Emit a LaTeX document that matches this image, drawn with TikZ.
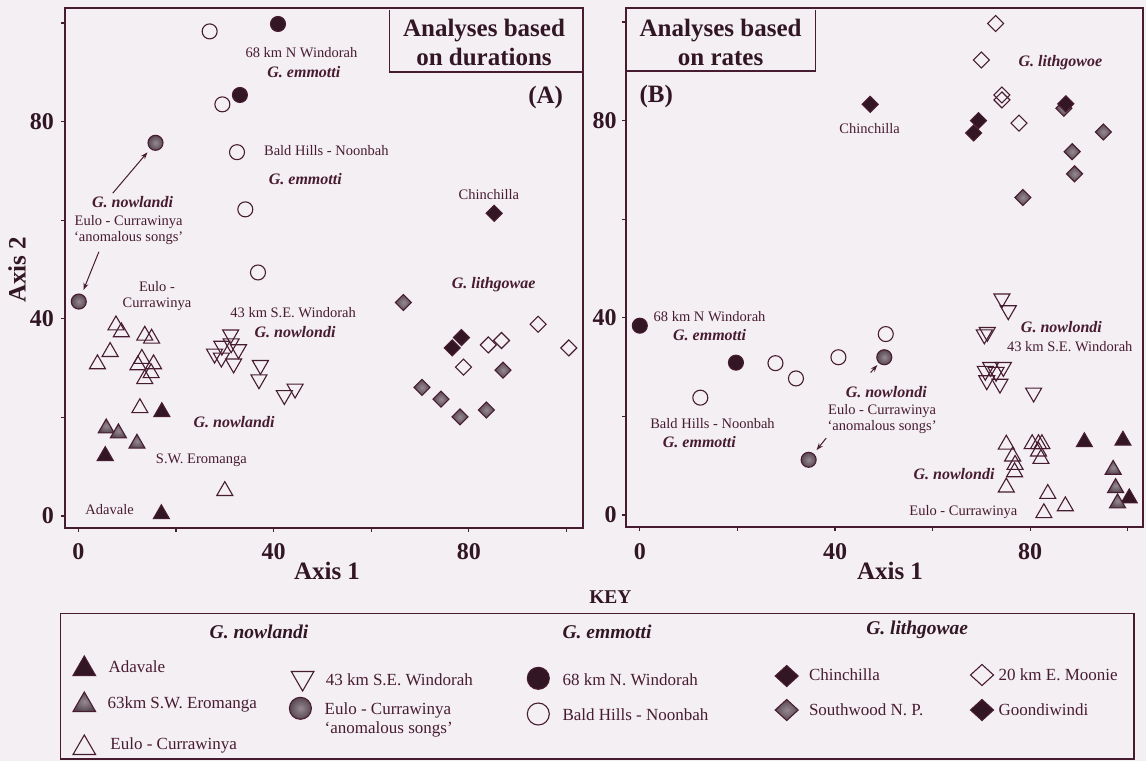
\documentclass[tikz,border=0pt]{standalone}
\usepackage{fontspec}
\setmainfont{Liberation Serif}
\usetikzlibrary{shapes.geometric,arrows.meta}
\definecolor{bg}{RGB}{243,239,243}
\definecolor{ink}{RGB}{72,28,48}
\definecolor{darkc}{RGB}{50,22,36}
\definecolor{grayin}{RGB}{150,138,144}
\definecolor{grayout}{RGB}{88,72,82}
\newcommand{\myfs}[2]{\fontsize{#1}{#2}\selectfont}
\tikzset{
  mk/.style={inner sep=0pt, outer sep=0pt, line width=1.1pt, draw=ink},
  tup/.style={mk, regular polygon, regular polygon sides=3, minimum size=18.5pt},
  tdn/.style={tup, shape border rotate=180},
  dia/.style={mk, diamond, minimum width=16pt, minimum height=16pt},
  circ/.style={mk, circle, minimum size=15pt},
  ktup/.style={mk, regular polygon, regular polygon sides=3, minimum size=26pt},
  ktdn/.style={ktup, shape border rotate=180},
  kdia/.style={mk, diamond, minimum width=23pt, minimum height=21pt},
  kcirc/.style={mk, circle, minimum size=22pt},
  mdark/.style={fill=darkc},
  mgray/.style={shade, inner color=grayin, outer color=grayout},
  mopen/.style={},
  lab/.style={text=ink, inner sep=0pt, font=\myfs{14.5}{16}, align=center},
  spc/.style={text=ink, inner sep=0pt, font=\myfs{16}{18}\bfseries\itshape},
  tick/.style={text=darkc, inner sep=0pt, font=\myfs{24}{26}\bfseries},
  ttl/.style={text=darkc, inner sep=0pt, font=\myfs{25}{28.5}\bfseries, align=center},
  frm/.style={draw=ink, line width=1.8pt},
  tk/.style={draw=ink, line width=1.3pt},
  arr/.style={draw=ink, line width=1pt, -{Stealth[length=7pt,width=5pt]}},
  ktxt/.style={text=ink, inner sep=0pt, font=\myfs{17}{19}, anchor=west, align=left},
  khd/.style={text=darkc, inner sep=0pt, font=\myfs{19.5}{21}\bfseries\itshape},
}
\begin{document}
\begin{tikzpicture}[x=1pt,y=-1pt]
\fill[bg] (0,0) rectangle (1146,761);
\useasboundingbox (0,0) rectangle (1146,761);

% ================= LEFT PANEL =================
\begin{scope}[shift={(78.4,516)},x=4.88pt,y=4.93pt]
  \draw[frm] (-2.75,-2.43) rectangle (103.4,103.0);
  \foreach \v in {0,20,...,100} {
    \draw[tk] (-2.75,\v) -- ++(-4pt,0pt);
    \draw[tk] (\v,-2.43) -- ++(0pt,-4pt);
  }
  \foreach \v in {0,40,80} {
    \node[tick, anchor=east] (lyl\v) at (-5.0,\v) {\v};
    \node[tick] (lxl\v) at (\v,-7.2) {\v};
  }
  % Bald Hills open circles
  \foreach \x/\y [count=\i] in {26.9/98.3,29.5/83.5,32.5/73.8,34.2/62.2,36.8/49.4}
    \node[circ,mopen] (lbh\i) at (\x,\y) {};
  % 68 km dark circles
  \foreach \x/\y [count=\i] in {40.9/99.8,33.1/85.4}
    \node[circ,mdark] (lwd\i) at (\x,\y) {};
  % gray circles
  \node[circ,mgray] (lgc1) at (15.8,75.7) {};
  \node[circ,mgray] (lgc2) at (0.08,43.5) {};
  % open up triangles
  \foreach \x/\y [count=\i] in {7.7/38.3,8.8/36.9,13.6/36.2,15.0/35.6,6.5/32.9,3.9/30.4,13.0/31.5,12.2/30.2,15.4/30.4,14.9/28.6,13.6/27.4,12.6/21.5,30.0/4.7}
    \node[tup,mopen] (leu\i) at (\x,\y+0.4) {};
  % dark up triangles (Adavale)
  \foreach \x/\y [count=\i] in {17.1/20.7,5.5/11.8,17/0}
    \node[tup,mdark] (lad\i) at (\x,\y+0.4) {};
  % gray up triangles (Eromanga)
  \foreach \x/\y [count=\i] in {5.7/17.4,8.2/16.4,12/14.3}
    \node[tup,mgray] (ler\i) at (\x,\y+0.4) {};
  % down triangles
  \foreach \x/\y [count=\i] in {31.2/37.2,31.3/35.4,29.4/34.9,32.8/34.2,27.9/33.3,29.3/32.5,31.8/31.3,37.3/31,37.0/28.1,42.2/24.9,44.4/26.2}
    \node[tdn,mopen] (lse\i) at (\x,\y-0.4) {};
  % diamonds
  \node[dia,mdark] (lch1) at (85.2,61.4) {};
  \foreach \x/\y [count=\i] in {78.5/36.2,76.6/34.1}
    \node[dia,mdark] (lgo\i) at (\x,\y) {};
  \foreach \x/\y [count=\i] in {66.6/43.3,87/29.6,70.4/26.1,74.3/23.7,78.2/20.1,83.6/21.5}
    \node[dia,mgray] (lso\i) at (\x,\y) {};
  \foreach \x/\y [count=\i] in {84/34.7,86.7/35.6,94.2/38.9,100.5/34.1,78.9/30.2}
    \node[dia,mopen] (lmo\i) at (\x,\y) {};
  % labels
  \node[lab] (lt1) at (45.7,93.9) {68 km N Windorah};
  \node[spc] (lt2) at (46.2,90.1) {G. emmotti};
  \node[lab] (lt3) at (50.8,74.1) {Bald Hills - Noonbah};
  \node[spc] (lt4) at (46.5,68.3) {G. emmotti};
  \node[lab] (lt5) at (84.1,65.3) {Chinchilla};
  \node[spc] (lt6) at (11.1,63.6) {G. nowlandi};
  \node[lab] (lt7) at (10.3,58.0) {Eulo - Currawinya\\`anomalous songs'};
  \node[spc] (lt8) at (85.1,46.9) {G. lithgowae};
  \node[lab] (lt9) at (16.1,44.6) {Eulo -\\Currawinya};
  \node[lab] (lt10) at (44,41.3) {43 km S.E. Windorah};
  \node[spc] (lt11) at (44.4,37.3) {G. nowlondi};
  \node[spc] (lt12) at (31.9,19) {G. nowlandi};
  \node[lab] (lt13) at (25.2,11.4) {S.W. Eromanga};
  \node[lab] (lt14) at (6.4,1.4) {Adavale};
  % arrows
  \coordinate (la1) at (7.05,65.5);
  \coordinate (la2) at (4.2,53.6);
  \draw[arr, shorten >=5pt] (la1) -- (lgc1);
  \draw[arr, shorten >=5pt] (la2) -- (lgc2);
\end{scope}

% ================= RIGHT PANEL =================
\begin{scope}[shift={(639.8,515)},x=4.88pt,y=4.93pt]
  \draw[frm] (-2.83,-2.43) rectangle (103.1,102.8);
  \foreach \v in {0,20,...,100} {
    \draw[tk] (-2.83,\v) -- ++(-4pt,0pt);
    \draw[tk] (\v,-2.43) -- ++(0pt,-4pt);
  }
  \foreach \v in {0,40,80} {
    \node[tick, anchor=east] (ryl\v) at (-4.7,\v) {\v};
    \node[tick] (rxl\v) at (\v,-7.4) {\v};
  }
  % diamonds
  \foreach \x/\y [count=\i] in {72.9/99.7,70/92.3,74.2/85.2,74.2/84.2,77.7/79.5}
    \node[dia,mopen] (rmo\i) at (\x,\y) {};
  \node[dia,mdark] (rch1) at (47.2,83.3) {};
  \foreach \x/\y [count=\i] in {69.4/80,68.4/77.5}
    \node[dia,mdark] (rgo\i) at (\x,\y) {};
  \foreach \x/\y [count=\i] in {86.9/82.5,95/77.7,88.6/73.7,89.1/69.2,78.5/64.4}
    \node[dia,mgray] (rso\i) at (\x,\y) {};
  \node[dia,mdark] (rgo3) at (87.3,83.4) {};
  % circles
  \foreach \x/\y [count=\i] in {0/38.4,19.7/30.9}
    \node[circ,mdark] (rwd\i) at (\x,\y) {};
  \foreach \x/\y [count=\i] in {27.8/30.8,32/27.7,12.4/23.8,40.7/32,50.4/36.7}
    \node[circ,mopen] (rbh\i) at (\x,\y) {};
  \node[circ,mgray] (rgc1) at (50.1,32) {};
  \node[circ,mgray] (rgc2) at (34.6,11.2) {};
  % down triangles
  \foreach \x/\y [count=\i] in {74.2/44.3,75.5/41.9,70.6/37,71.2/37.5,70.8/29.6,71.9/30.4,74.5/30.4,73/29.4,71.1/27.7,73.8/27,80.7/25.2}
    \node[tdn,mopen] (rse\i) at (\x,\y-0.4) {};
  % open up triangles
  \foreach \x/\y [count=\i] in {75.1/13.9,76.4/11.5,76.9/9.8,76.8/8.3,75.1/5.2,80.4/14,81.7/14,82.4/14,81.7/12.5,82.2/11,83.6/3.9,82.8/0,87.2/1.4}
    \node[tup,mopen] (reu\i) at (\x,\y+0.4) {};
  \foreach \x/\y [count=\i] in {91.1/14.4,99/14.7,100.3/3}
    \node[tup,mdark] (rad\i) at (\x,\y+0.4) {};
  \foreach \x/\y [count=\i] in {97/8.8,97.5/5.1,97.9/2}
    \node[tup,mgray] (rer\i) at (\x,\y+0.4) {};
  % labels
  \node[spc] (rt1) at (86.2,91.8) {G. lithgowoe};
  \node[lab] (rt2) at (47.1,78.4) {Chinchilla};
  \node[lab] (rt3) at (14.3,40.2) {68 km N Windorah};
  \node[spc] (rt4) at (14.3,36.5) {G. emmotti};
  \node[lab] (rt5) at (14.9,18.5) {Bald Hills - Noonbah};
  \node[spc] (rt6) at (12.2,14.7) {G. emmotti};
  \node[spc] (rt7) at (50.5,24.9) {G. nowlondi};
  \node[lab] (rt8) at (49.65,19.5) {Eulo - Currawinya\\`anomalous songs'};
  \node[spc] (rt9) at (86.4,38.1) {G. nowlondi};
  \node[lab] (rt10) at (88.1,34.1) {43 km S.E. Windorah};
  \node[spc] (rt11) at (64.4,8.3) {G. nowlondi};
  \node[lab] (rt12) at (66.3,0.7) {Eulo - Currawinya};
  \coordinate (ra1) at (47.3,28.9);
  \coordinate (ra2) at (38.2,15.6);
  \draw[arr, shorten >=3pt] (ra1) -- (rgc1);
  \draw[arr, shorten >=5pt] (ra2) -- (rgc2);
\end{scope}

% ================= TITLES =================
\draw[draw=ink, line width=1.2pt] (389.6,10) -- (389.6,72) -- (582,72);
\node[ttl] (tA) at (484,42.5) {Analyses based\\on durations};
\node[ttl] (lA) at (545.7,97.3) {(A)};
\draw[draw=ink, line width=1.2pt] (627,71) -- (815.4,71) -- (815.4,10);
\node[ttl] (tB) at (720.6,42.5) {Analyses based\\on rates};
\node[ttl] (lB) at (656.3,96.7) {(B)};
\node[ttl] (ax1l) at (327,571) {Axis 1};
\node[ttl] (ax1r) at (890,571) {Axis 1};
\node[ttl, rotate=90] (ax2) at (17,270) {Axis 2};

% ================= KEY =================
\node[text=darkc, inner sep=0pt, font=\myfs{19.5}{21}\bfseries] (key) at (610.4,596.7) {KEY};
\draw[draw=ink, line width=1.2pt] (60.3,613.3) rectangle (1134,759);
\node[khd] (kh1) at (259,631.7) {G. nowlandi};
\node[khd] (kh2) at (607,632) {G. emmotti};
\node[khd] (kh3) at (917.2,630) {G. lithgowae};
\node[ktup,mdark] (km1) at (84.3,669) {};
\node[ktxt] (kt1) at (108.4,666.7) {Adavale};
\node[ktup,mgray] (km2) at (84.3,705) {};
\node[ktxt] (kt2) at (107.3,704) {63km S.W. Eromanga};
\node[ktup,mopen] (km3) at (84.3,748) {};
\node[ktxt] (kt3) at (110.2,745.7) {Eulo - Currawinya};
\node[ktdn,mopen] (km4) at (302.6,678) {};
\node[ktxt] (kt4) at (325.6,680) {43 km S.E. Windorah};
\node[kcirc,mgray] (km5) at (300.4,708.3) {};
\node[ktxt] (kt5) at (324.5,719.5) {Eulo - Currawinya\\`anomalous songs'};
\node[kcirc,mdark] (km6) at (538.3,678.3) {};
\node[ktxt] (kt6) at (562.3,680) {68 km N. Windorah};
\node[kcirc,mopen] (km7) at (538.3,714) {};
\node[ktxt] (kt7) at (562.3,715) {Bald Hills - Noonbah};
\node[kdia,mdark] (km8) at (786.7,676) {};
\node[ktxt] (kt8) at (808.8,675) {Chinchilla};
\node[kdia,mgray] (km9) at (786.7,710) {};
\node[ktxt] (kt9) at (808.8,709.3) {Southwood N. P.};
\node[kdia,mopen] (km10) at (982,675) {};
\node[ktxt] (kt10) at (998.5,675) {20 km E. Moonie};
\node[kdia,mdark] (km11) at (982,710) {};
\node[ktxt] (kt11) at (998.5,709.3) {Goondiwindi};
\end{tikzpicture}
\end{document}
